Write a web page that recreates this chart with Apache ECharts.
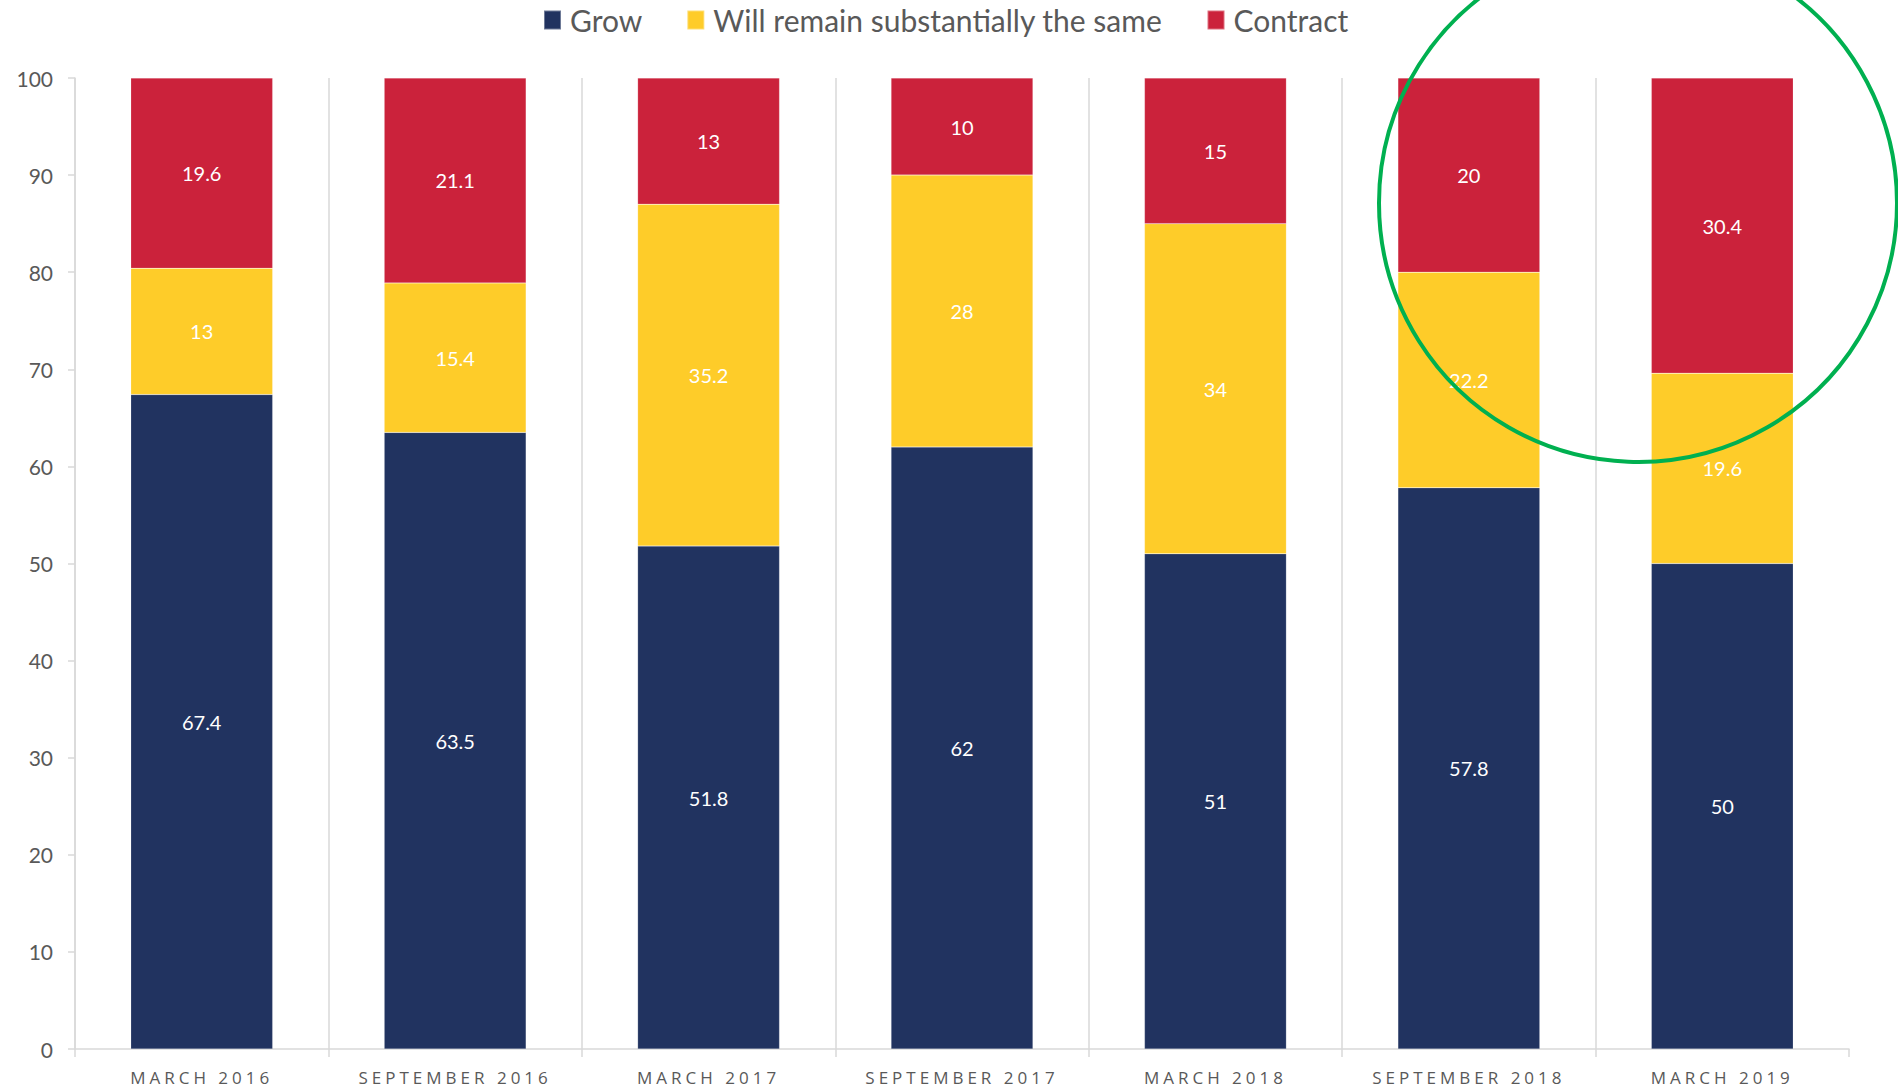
<!DOCTYPE html>
<html>
<head>
<meta charset="utf-8">
<script src="https://cdn.jsdelivr.net/npm/echarts@6/dist/echarts.min.js"></script>
<style>
  html, body { margin: 0; padding: 0; background: #fff; }
  #chart { width: 1898px; height: 1088px; }
  #chart svg text[style*="Open Sans"] { letter-spacing: 4px; }
</style>
</head>
<body>
<div id="chart"></div>
<script>
const categories = ['MARCH 2016', 'SEPTEMBER 2016', 'MARCH 2017', 'SEPTEMBER 2017', 'MARCH 2018', 'SEPTEMBER 2018', 'MARCH 2019'];
const growValues = [67.4, 63.5, 51.8, 62, 51, 57.8, 50];
const sameValues = [13, 15.4, 35.2, 28, 34, 22.2, 19.6];
const contractValues = [19.6, 21.1, 13, 10, 15, 20, 30.4];
const yTicks = { min: 0, max: 100, interval: 10 };

const chart = echarts.init(document.getElementById('chart'), null, { renderer: 'svg' });

const labelStyle = {
  show: true,
  position: 'inside',
  color: '#ffffff',
  fontFamily: 'Lato',
  fontSize: 20
};

function barSeries(name, data, color) {
  return {
    name: name,
    type: 'bar',
    stack: 'total',
    data: data,
    barCategoryGap: '44%',
    itemStyle: { color: color, borderColor: 'rgba(255,255,255,0.35)', borderWidth: 0.5 },
    label: labelStyle,
    emphasis: { disabled: true }
  };
}

chart.setOption({
  animation: false,
  backgroundColor: '#ffffff',
  legend: {
    left: 538,
    top: 0,
    itemWidth: 17,
    itemHeight: 19,
    itemGap: 44,
    icon: 'rect',
    textStyle: { color: '#595959', fontFamily: 'Lato', fontSize: 30, padding: [0, 0, 0, 4] },
    data: ['Grow', 'Will remain substantially the same', 'Contract']
  },
  grid: { left: 75, right: 49, top: 78, bottom: 39, outerBoundsMode: 'none', containLabel: false },
  xAxis: {
    type: 'category',
    data: categories,
    axisLine: { lineStyle: { color: '#d9d9d9', width: 1.5 } },
    axisTick: { show: true, length: 8, lineStyle: { color: '#d9d9d9', width: 1.5 } },
    splitLine: { show: true, showMaxLine: false, lineStyle: { color: '#d9d9d9', width: 1.5 } },
    axisLabel: { color: '#595959', fontFamily: 'Open Sans', fontSize: 17, margin: 20 }
  },
  yAxis: {
    type: 'value',
    min: yTicks.min,
    max: yTicks.max,
    interval: yTicks.interval,
    axisLine: { show: true, lineStyle: { color: '#d9d9d9', width: 1.5 } },
    axisTick: { show: true, length: 7, lineStyle: { color: '#d9d9d9', width: 1.5 } },
    splitLine: { show: false },
    axisLabel: { color: '#595959', fontFamily: 'Lato', fontSize: 21, margin: 22 }
  },
  series: [
    barSeries('Grow', growValues, '#213360'),
    barSeries('Will remain substantially the same', sameValues, '#FECC29'),
    barSeries('Contract', contractValues, '#CB223B')
  ],
  graphic: [{
    type: 'circle',
    z: 100,
    silent: true,
    shape: { cx: 1638, cy: 203, r: 259 },
    style: { fill: 'none', stroke: '#00B050', lineWidth: 4 }
  }]
});
</script>
</body>
</html>
